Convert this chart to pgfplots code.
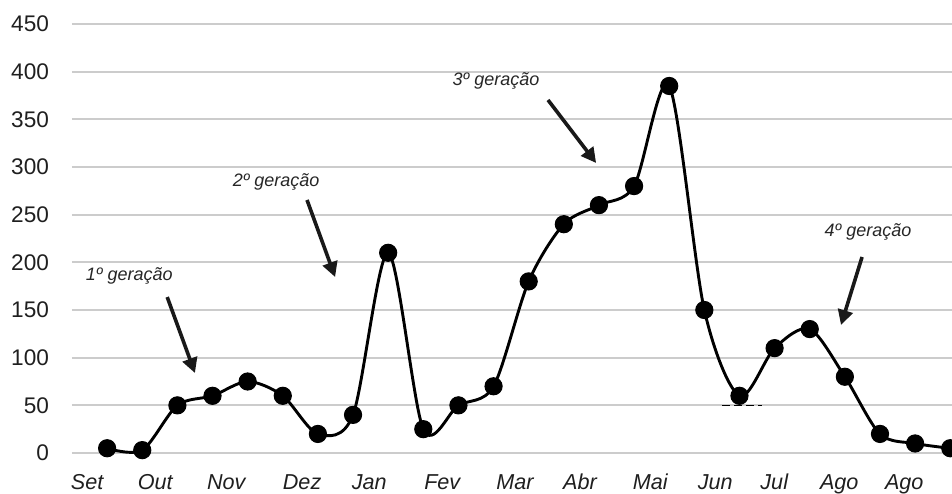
\documentclass[border=0pt]{standalone}
\usepackage{fontspec}
\setmainfont{Liberation Sans}
\usepackage{pgfplots}
\pgfplotsset{compat=1.18}
\usetikzlibrary{arrows.meta}
\begin{document}
\begin{tikzpicture}
\begin{axis}[
  scale only axis, width=440pt, height=219.27pt,
  xmin=-1, xmax=24.05, ymin=-10, ymax=450,
  axis line style={draw=none},
  major tick length=0pt,
  ytick={0,50,...,450},
  ymajorgrids, grid style={black!20, line width=0.9pt},
  xtick={-0.57,1.37,3.39,5.55,7.46,9.54,11.61,13.46,15.46,17.31,18.99,20.84,22.69},
  xticklabels={Set,Out,Nov,Dez,Jan,Fev,Mar,Abr,Mai,Jun,Jul,Ago,Ago},
  xticklabel style={font=\fontsize{10.8}{12}\selectfont\itshape, text=black!88, text height=8pt, text depth=2pt, yshift=-2pt},
  yticklabel style={font=\fontsize{11.3}{13}\selectfont, text=black!88, xshift=-8pt},
  /pgf/number format/assume math mode=true,
]
\addplot[black, line width=0.8pt, dash pattern=on 4pt off 2pt, forget plot] coordinates {(17.51,50) (18.64,50)};
\addplot[black, line width=1.45pt, smooth, tension=0.5, mark=*, mark size=4.3pt, mark options={fill=black, line width=0.5pt}] coordinates {
(0,5) (1,3) (2,50) (3,60) (4,75) (5,60) (6,20) (7,40) (8,210) (9,25) (10,50) (11,70) (12,180)
(13,240) (14,260) (15,280) (16,385) (17,150) (18,60) (19,110) (20,130) (21,80) (22,20) (23,10) (24,5)};
\draw[-{Triangle[length=7.5pt,width=7.5pt]}, line width=1.8pt, black!90] (axis cs:1.71,163.6) -- (axis cs:2.50,83.9);
\node[font=\fontsize{9}{10}\selectfont\itshape, text=black!85] at (axis cs:0.63,185.7) {1º geração};
\draw[-{Triangle[length=7.5pt,width=7.5pt]}, line width=1.8pt, black!90] (axis cs:5.69,265.4) -- (axis cs:6.49,184.6);
\node[font=\fontsize{9}{10}\selectfont\itshape, text=black!85] at (axis cs:4.81,284.3) {2º geração};
\draw[-{Triangle[length=7.5pt,width=7.5pt]}, line width=1.8pt, black!90] (axis cs:12.55,370.3) -- (axis cs:13.92,304.2);
\node[font=\fontsize{9}{10}\selectfont\itshape, text=black!85] at (axis cs:11.07,390.2) {3º geração};
\draw[-{Triangle[length=7.5pt,width=7.5pt]}, line width=1.8pt, black!90] (axis cs:21.49,205.6) -- (axis cs:20.89,134.3);
\node[font=\fontsize{9}{10}\selectfont\itshape, text=black!85] at (axis cs:21.66,231.8) {4º geração};
\end{axis}
\pgfresetboundingbox
\useasboundingbox ([xshift=-36pt,yshift=-15.25pt]current axis.south west) rectangle ([yshift=12pt]current axis.north east);
\end{tikzpicture}
\end{document}
